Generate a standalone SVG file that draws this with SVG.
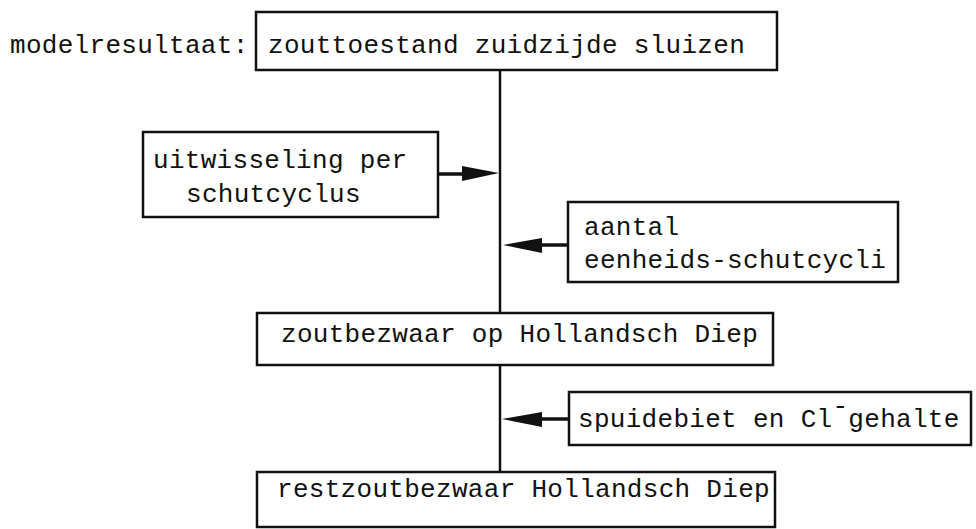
<svg xmlns="http://www.w3.org/2000/svg" width="976" height="529" viewBox="0 0 976 529">
<style>
  .box{fill:#fff;stroke:#111;stroke-width:2.5}
  .t{font-family:"Liberation Mono","DejaVu Sans Mono",monospace;font-size:26px;letter-spacing:0.3px;fill:#111}
  .ln{stroke:#111;stroke-width:2.5;fill:none}
  .thick{stroke:#111;stroke-width:3.5;fill:none}
  .ah{fill:#111}
</style>
<rect width="976" height="529" fill="#fff"/>
<g id="connectors">
  <line class="ln" x1="500" y1="70" x2="500" y2="313"/>
  <line class="ln" x1="500" y1="365" x2="500" y2="472"/>
  <line class="thick" x1="438" y1="174" x2="464" y2="174"/>
  <polygon class="ah" points="499,173 462,166 462,181"/>
  <line class="thick" x1="540" y1="245" x2="568" y2="245"/>
  <polygon class="ah" points="503,245 542,238 542,253"/>
  <line class="thick" x1="540" y1="419" x2="569" y2="419"/>
  <polygon class="ah" points="502,419 542,412 542,427"/>
</g>
<g id="label-modelresultaat">
  <text class="t" x="10" y="53">modelresultaat:</text>
</g>
<g id="node-zouttoestand">
  <rect class="box" x="256" y="12" width="521" height="58"/>
  <text class="t" x="268" y="53">zouttoestand zuidzijde sluizen</text>
</g>
<g id="node-uitwisseling">
  <rect class="box" x="143" y="132" width="295" height="85"/>
  <text class="t" x="153" y="168">uitwisseling per</text>
  <text class="t" x="186" y="202">schutcyclus</text>
</g>
<g id="node-aantal">
  <rect class="box" x="568" y="202" width="330" height="80"/>
  <text class="t" x="584" y="235">aantal</text>
  <text class="t" x="584" y="268">eenheids-schutcycli</text>
</g>
<g id="node-zoutbezwaar">
  <rect class="box" x="257" y="313" width="516" height="52"/>
  <text class="t" x="281" y="342">zoutbezwaar op Hollandsch Diep</text>
</g>
<g id="node-spuidebiet">
  <rect class="box" x="569" y="392" width="402" height="53"/>
  <text class="t" x="578" y="427">spuidebiet en Cl<tspan dy="-13">-</tspan><tspan dy="13">gehalte</tspan></text>
</g>
<g id="node-restzoutbezwaar">
  <rect class="box" x="257" y="472" width="518" height="55"/>
  <text class="t" x="277" y="497">restzoutbezwaar Hollandsch Diep</text>
</g>
</svg>
